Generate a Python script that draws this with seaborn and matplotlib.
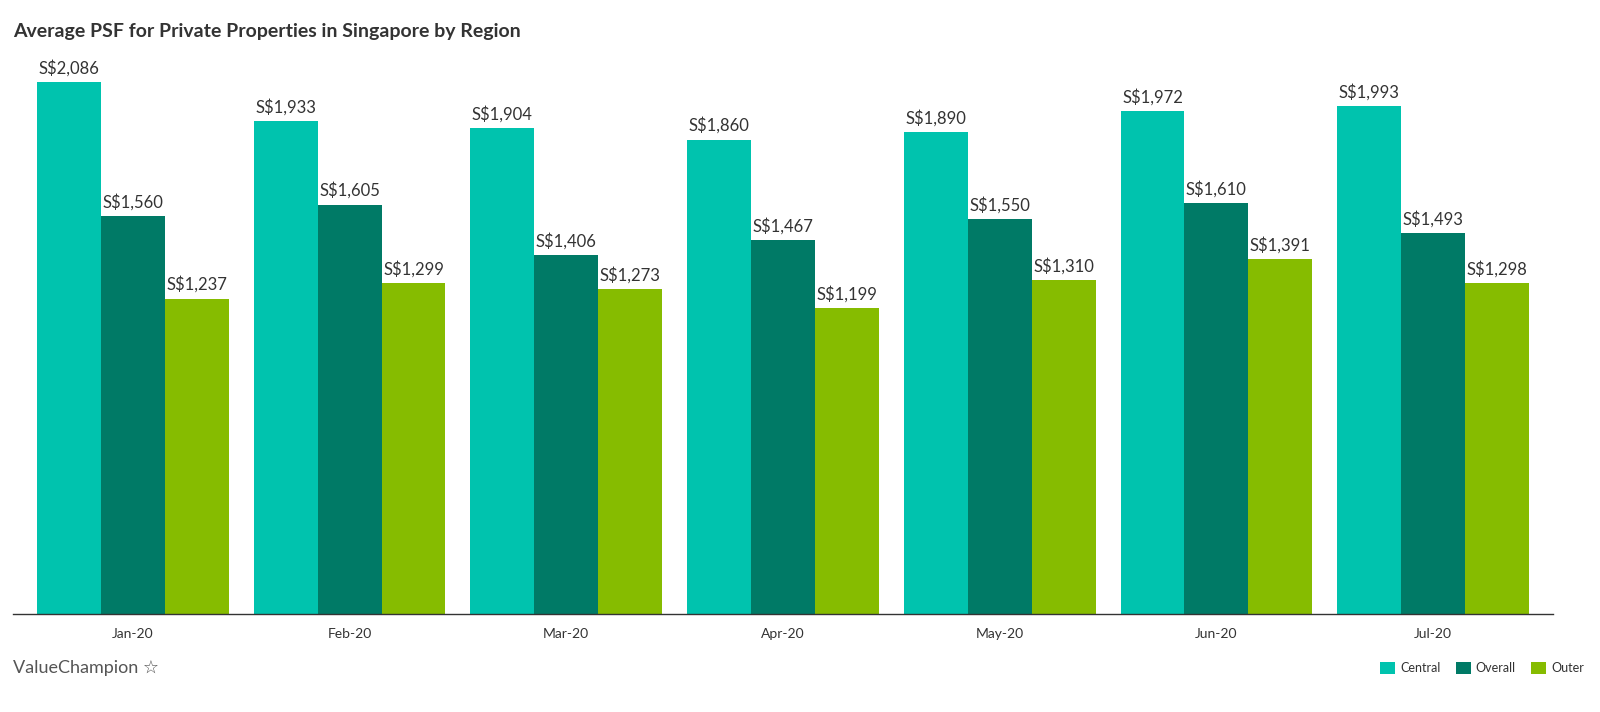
import matplotlib
matplotlib.use("Agg")
import matplotlib.pyplot as plt
import seaborn as sns
import pandas as pd
from matplotlib.patches import Patch

months = ["Jan-20", "Feb-20", "Mar-20", "Apr-20", "May-20", "Jun-20", "Jul-20"]
central = [2086, 1933, 1904, 1860, 1890, 1972, 1993]
overall = [1560, 1605, 1406, 1467, 1550, 1610, 1493]
outer = [1237, 1299, 1273, 1199, 1310, 1391, 1298]
series = ["Central", "Overall", "Outer"]
colors = ["#00C3AE", "#007A66", "#86BC00"]

df = pd.DataFrame({
    "Month": months * 3,
    "Region": [s for s in series for _ in months],
    "Value": central + overall + outer,
})

sns.set_theme(style="white")
plt.rcParams["font.family"] = ["Lato", "DejaVu Sans"]
text_color = "#333333"

fig = plt.figure(figsize=(16, 7.12), dpi=100)
ax = fig.add_axes([13 / 1600, 98 / 712, 1540 / 1600, (614 - 50) / 712])

sns.barplot(data=df, x="Month", y="Value", hue="Region", order=months,
            hue_order=series, palette=colors, width=0.885, gap=0,
            saturation=1, linewidth=0, edgecolor="none", ax=ax, legend=False)

for cont in ax.containers:
    labels = [f"S${int(v.get_height()):,}" for v in cont]
    ax.bar_label(cont, labels=labels, padding=4, fontsize=12, color=text_color)

ax.set_xlim(-0.553, 6.553)
ax.set_ylim(0, 2086 * (614 - 50) / 532)
ax.set_xlabel("")
ax.set_ylabel("")
ax.set_yticks([])
for s in ["top", "right", "left"]:
    ax.spines[s].set_visible(False)
ax.spines["bottom"].set_color("#333333")
ax.spines["bottom"].set_linewidth(1)
ax.tick_params(axis="x", length=0, pad=10, labelsize=10, labelcolor=text_color)

fig.text(13 / 1600, 1 - 32 / 712, "Average PSF for Private Properties in Singapore by Region",
         fontsize=14, fontweight="bold", color=text_color, va="center", ha="left")

fig.text(13 / 1600, 1 - 668 / 712, "ValueChampion ☆", fontsize=13, color="#555555",
         va="center", ha="left")

handles = [Patch(facecolor=c, edgecolor="none") for c in colors]
fig.legend(handles, series, loc="center right", bbox_to_anchor=(1595 / 1600, 1 - 668 / 712),
           ncol=3, frameon=False, fontsize=9, handlelength=1.2, handleheight=1.2,
           handletextpad=0.4, columnspacing=1.2, labelcolor=text_color)

fig.savefig("out.png", dpi=100)
